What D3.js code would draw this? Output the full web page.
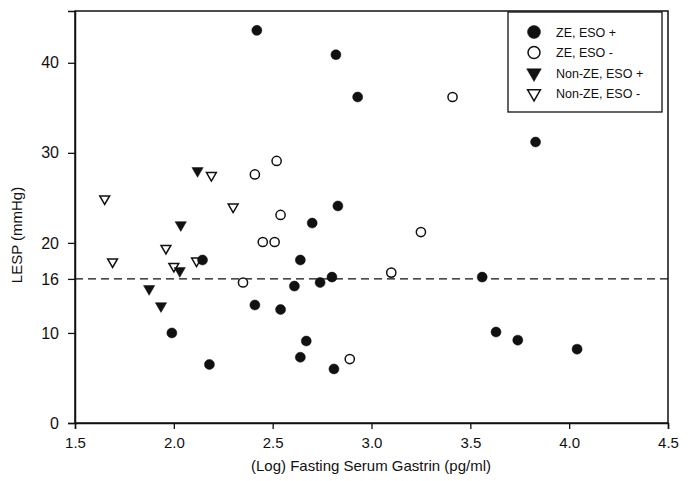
<!DOCTYPE html>
<html>
<head>
<meta charset="utf-8">
<script src="https://cdn.jsdelivr.net/npm/d3@7"></script>
<style>
  html, body { margin: 0; padding: 0; background: #fff; }
  svg { display: block; font-family: Arial, "Liberation Sans", sans-serif; }
</style>
</head>
<body>
<svg id="chart" width="690" height="481"></svg>
<script>
// ---- Data ----
const zeEsoPos = [
  [2.42, 43.6], [2.82, 40.9], [2.93, 36.2], [3.83, 31.2], [2.83, 24.1],
  [2.70, 22.2], [2.64, 18.1], [2.80, 16.2], [2.74, 15.6], [2.61, 15.2],
  [2.41, 13.1], [2.54, 12.6], [2.145, 18.1], [1.99, 10.0], [2.18, 6.5],
  [2.67, 9.1], [2.64, 7.3], [2.81, 6.0], [3.56, 16.2], [3.63, 10.1],
  [3.74, 9.2], [4.04, 8.2]
];
const zeEsoNeg = [
  [2.52, 29.1], [2.41, 27.6], [2.54, 23.1], [2.45, 20.1], [2.51, 20.1],
  [2.35, 15.6], [3.25, 21.2], [3.10, 16.7], [3.41, 36.2], [2.89, 7.1]
];
const nonZeEsoPos = [
  [2.12, 28.0], [2.035, 22.0], [2.03, 16.9], [1.875, 14.9], [1.935, 13.0]
];
const nonZeEsoNeg = [
  [1.65, 24.9], [2.19, 27.5], [2.30, 24.0], [1.96, 19.4], [1.69, 17.9],
  [2.00, 17.4], [2.115, 18.0]
];
const xTicks = [1.5, 2.0, 2.5, 3.0, 3.5, 4.0, 4.5];
const yTicks = [0, 10, 16, 20, 30, 40];
const refLine = 16;
const legendLabels = ["ZE, ESO +", "ZE, ESO -", "Non-ZE, ESO +", "Non-ZE, ESO -"];
const xLabel = "(Log) Fasting Serum Gastrin (pg/ml)";
const yLabel = "LESP (mmHg)";

// ---- Layout ----
const svg = d3.select("#chart");
const L = 75, R = 668, T = 11, B = 423;
const x = d3.scaleLinear().domain([1.5, 4.5]).range([L, R]);
const y = d3.scaleLinear().domain([0, 45.75]).range([B, T]);
const ink = "#111";

// frame
svg.append("rect")
  .attr("x", L).attr("y", T).attr("width", R - L).attr("height", B - T)
  .attr("fill", "none").attr("stroke", ink).attr("stroke-width", 1.5);

// axes
const xAxis = svg.append("g").attr("transform", `translate(0,${B})`)
  .call(d3.axisBottom(x).tickValues(xTicks).tickFormat(d3.format(".1f")).tickSize(6).tickPadding(8));
const yAxis = svg.append("g").attr("transform", `translate(${L},0)`)
  .call(d3.axisLeft(y).tickValues(yTicks).tickFormat(d3.format("d")).tickSize(7).tickPadding(9));
[xAxis, yAxis].forEach(g => {
  g.select(".domain").attr("stroke", ink).attr("stroke-width", 1.5);
  g.selectAll(".tick line").attr("stroke", ink).attr("stroke-width", 1.3);
  g.selectAll(".tick text").attr("fill", ink)
    .style("font-family", "Arial, 'Liberation Sans', sans-serif");
});
xAxis.selectAll(".tick text").style("font-size", "15px");
yAxis.selectAll(".tick text").style("font-size", "16px");

// dashed reference line
svg.append("line")
  .attr("x1", L).attr("x2", R).attr("y1", y(refLine)).attr("y2", y(refLine))
  .attr("stroke", ink).attr("stroke-width", 1.1).attr("stroke-dasharray", "8,5");

// axis titles
svg.append("text")
  .attr("transform", `translate(22,${(T + B) / 2 + 18}) rotate(-90)`)
  .attr("text-anchor", "middle").attr("fill", ink).style("font-size", "15px")
  .text(yLabel);
svg.append("text")
  .attr("x", 371).attr("y", 471)
  .attr("text-anchor", "middle").attr("fill", ink).style("font-size", "15px")
  .text(xLabel);

// markers
const tri = d3.symbol().type(d3.symbolTriangle);
function drawMarker(g, kind, cx, cy, scale) {
  const s = scale || 1;
  if (kind === 0 || kind === 1) {
    g.append("circle").attr("cx", cx).attr("cy", cy).attr("r", (kind === 0 ? 5 : 4.6) * s)
      .attr("fill", kind === 0 ? ink : "#fff")
      .attr("stroke", ink).attr("stroke-width", kind === 0 ? 0.5 : 1.5);
  } else {
    g.append("path").attr("d", tri.size((kind === 2 ? 55 : 42) * s * s)())
      .attr("transform", `translate(${cx},${cy}) rotate(180)`)
      .attr("fill", kind === 2 ? ink : "#fff")
      .attr("stroke", ink).attr("stroke-width", kind === 2 ? 0.5 : 1.5)
      .attr("stroke-linejoin", "miter");
  }
}
const series = [zeEsoPos, zeEsoNeg, nonZeEsoPos, nonZeEsoNeg];
const pts = svg.append("g");
// draw open markers first, filled after, matching overlap in reference
[3, 1, 2, 0].forEach(k => {
  series[k].forEach(d => drawMarker(pts, k, x(d[0]), y(d[1])));
});

// legend
const lg = svg.append("g");
lg.append("rect").attr("x", 508).attr("y", 12).attr("width", 154).attr("height", 100)
  .attr("fill", "#fff").attr("stroke", ink).attr("stroke-width", 1.3);
legendLabels.forEach((lab, i) => {
  const cy = 32 + i * 20.5;
  drawMarker(lg, i, 534, cy, 1.3);
  lg.append("text").attr("x", 556).attr("y", cy + 4.5).attr("fill", ink)
    .style("font-size", "12.5px").text(lab);
});
</script>
</body>
</html>
